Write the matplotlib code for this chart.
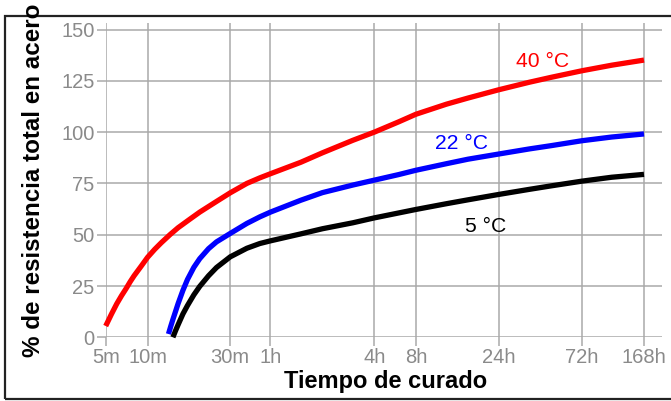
import numpy as np
import matplotlib
matplotlib.use("Agg")
import matplotlib.pyplot as plt
from matplotlib.patches import Rectangle
from matplotlib.ticker import FixedLocator, NullLocator

plt.rcParams['font.family'] = ['Liberation Sans', 'DejaVu Sans']

# curing time in minutes, % of total strength on steel
red_t = [5, 5.5, 6, 6.5, 7, 7.5, 8, 9, 10, 11, 12, 13.5, 15, 17.5, 20, 25, 30, 40, 50, 60,
         90, 120, 180, 240, 360, 480, 720, 960, 1440, 2160, 2880, 4320, 6480, 10080]
red_v = [5.5, 11.3, 16.3, 20.3, 23.7, 27.1, 30.0, 34.7, 39.0, 42.9, 46.1, 50.1, 53.4, 57.5, 61.0, 66.2, 70.4, 75.0, 77.7, 79.7,
         85.3, 89.9, 96.0, 100.0, 105.0, 108.7, 113.6, 116.6, 120.6, 124.3, 126.7, 129.9, 132.6, 135.1]

blue_t = [13.2, 13.6, 14, 14.5, 15, 16, 17, 18.5, 20, 22.5, 25, 30, 40, 50, 60,
          90, 120, 180, 240, 360, 480, 720, 960, 1440, 2160, 2880, 4320, 6480, 10080]
blue_v = [1.6, 5.3, 8.7, 12.6, 16.4, 22.9, 28.2, 34.1, 38.3, 43.2, 46.5, 50.6, 55.5, 58.7, 61.0,
          66.8, 70.5, 74.2, 76.6, 79.3, 81.4, 84.6, 86.8, 89.3, 91.8, 93.4, 95.8, 97.6, 99.1]

black_t = [14, 14.5, 15, 16, 17, 18.5, 20, 22.5, 25, 30, 40, 50, 60,
           90, 120, 180, 240, 360, 480, 720, 960, 1440, 2160, 2880, 4320, 6480, 10080]
black_v = [0.0, 3.2, 6.1, 11.4, 15.5, 20.7, 24.8, 30.0, 34.0, 39.2, 43.4, 45.7, 47.0,
           50.4, 52.9, 55.8, 58.2, 60.6, 62.3, 65.1, 67.0, 69.6, 72.1, 73.8, 76.1, 78.0, 79.4]

tick_min = [5, 10, 30, 60, 240, 480, 1440, 4320, 10080]
tick_lbl = ['5m', '10m', '30m', '1h', '4h', '8h', '24h', '72h', '168h']
y_ticks = [0, 25, 50, 75, 100, 125, 150]

# the original time axis is not a clean log scale, so map each tick to where it sits
tick_pos = [105.7, 147.6, 230.2, 270.4, 374.4, 415.9, 498.5, 582.0, 644.0]

W, H = 671, 401


def _pw(x, xp, fp):
    x = np.asarray(x, dtype=float)
    shape = x.shape
    x = np.atleast_1d(x).ravel()
    y = np.interp(x, xp, fp)
    lo = x < xp[0]
    hi = x > xp[-1]
    y[lo] = fp[0] + (x[lo] - xp[0]) * (fp[1] - fp[0]) / (xp[1] - xp[0])
    y[hi] = fp[-1] + (x[hi] - xp[-1]) * (fp[-1] - fp[-2]) / (xp[-1] - xp[-2])
    return y.reshape(shape)


_lx = np.log(tick_min)


def fwd(t):
    t = np.clip(np.asarray(t, dtype=float), 1e-6, None)
    return _pw(np.log(t), _lx, tick_pos)


def inv(p):
    return np.exp(_pw(p, tick_pos, _lx))


fig = plt.figure(figsize=(W / 100, H / 100), dpi=100)

# outer frame
fig.add_artist(Rectangle((5 / W, 1 - 399 / H), 1.0, (399 - 16) / H,
                         transform=fig.transFigure, fill=False,
                         edgecolor='#222222', lw=1.6, zorder=0))

x_left, x_right = 105.7, 662.0
y_bot, y_top = 337.3, 23.3
ax = fig.add_axes([x_left / W, 1 - y_bot / H, (x_right - x_left) / W, (y_bot - y_top) / H])
ax.set_xscale('function', functions=(fwd, inv))
ax.set_xlim(5, float(inv(x_right)))
ax.set_ylim(0, (y_bot - y_top) / 51.3 * 25)

ax.xaxis.set_major_locator(FixedLocator(tick_min))
ax.xaxis.set_minor_locator(NullLocator())
ax.set_xticklabels(tick_lbl)
ax.set_yticks(y_ticks)

for s in ax.spines.values():
    s.set_visible(False)
ax.set_axisbelow(True)
ax.grid(True, color='#a9a9a9', lw=1.1)
ax.tick_params(length=6.8, width=1.1, color='#a9a9a9', labelcolor='#8a8a8a',
               labelsize=14.5, pad=1.2)

for t, v, c in [(red_t, red_v, '#ff0000'), (blue_t, blue_v, '#0000ff'), (black_t, black_v, '#000000')]:
    ax.plot(t, v, color=c, lw=3.8, clip_on=False, solid_capstyle='butt', solid_joinstyle='round')

# curve labels
fig.text(516 / W, 1 - 66.7 / H, '40 °C', color='#ff0000', fontsize=15.2, va='baseline')
fig.text(435 / W, 1 - 149 / H, '22 °C', color='#0000ff', fontsize=15.2, va='baseline')
fig.text(465 / W, 1 - 232.3 / H, '5 °C', color='#000000', fontsize=15.2, va='baseline')

fig.text(385.5 / W, 1 - 388 / H, 'Tiempo de curado', fontsize=17, fontweight='bold',
         ha='center', va='baseline')
fig.text(34 / W, 1 - 180 / H, '% de resistencia total en acero', fontsize=17.4,
         fontweight='bold', rotation=90, ha='center', va='center')

fig.savefig('out.png', dpi=100)
